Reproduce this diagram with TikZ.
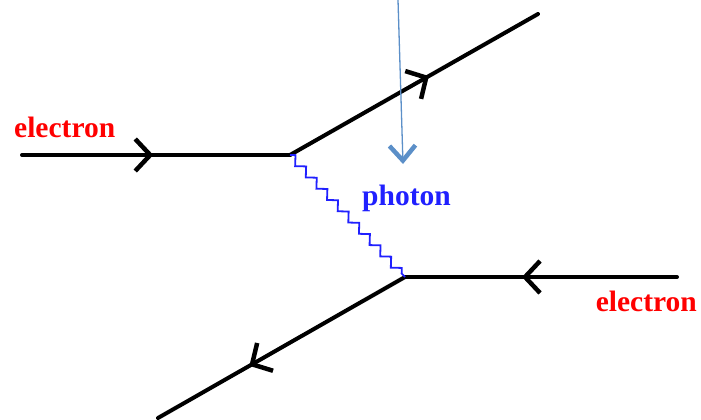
\documentclass[tikz,border=0pt]{standalone}
\usepackage{fontspec}
\setmainfont{Liberation Serif}
\usepackage{tikz}
\usetikzlibrary{arrows.meta,decorations.markings,decorations.pathmorphing}
\definecolor{LabelRed}{HTML}{FF0000}
\definecolor{PhotonBlue}{HTML}{2020FF}
\definecolor{PointerBlue}{HTML}{5B8FC8}
\begin{document}
\begin{tikzpicture}[x=1pt,y=-1pt,
        fermion/.style={line width=4pt,line cap=round,
          decoration={markings,mark=at position #1 with {\arrow{Straight Barb[length=15pt,width=32pt,line width=4.5pt]}}},
          postaction=decorate},
        photonline/.style={draw=PhotonBlue,line width=1.8pt,
          decorate,decoration={zigzag,segment length=15.5pt,amplitude=3.9pt}},
        lbl/.style={font=\fontsize{29.5}{33}\selectfont\bfseries,inner sep=0pt},
        pointer/.style={draw=PointerBlue,line width=1.3pt,
          -{Straight Barb[length=15pt,width=26pt,line width=4.5pt]}}
      ]
        \useasboundingbox (0,0) rectangle (701,420);
        % vertices and free ends
        \coordinate (v1) at (290,155);
        \coordinate (v2) at (405,277);
        \coordinate (inL) at (22,155);
        \coordinate (outU) at (538,14);
        \coordinate (inR) at (677,277);
        \coordinate (outD) at (158,418);
        \coordinate (ptop) at (398,0);
        \coordinate (ptip) at (403,164);
        % electron lines
        \draw[fermion=0.49] (inL) -- (v1);
        \draw[fermion=0.56] (v1) -- (outU);
        \draw[fermion=0.57] (inR) -- (v2);
        \draw[fermion=0.63] (v2) -- (outD);
        % exchanged photon
        \draw[photonline] (v1) -- (v2);
        \node[lbl,text=LabelRed,anchor=base west] (eleft) at (14,137) {electron};
        \node[lbl,text=LabelRed,anchor=base east] (eright) at (697,311) {electron};
        \node[lbl,text=PhotonBlue,anchor=base west] (ph) at (362,205) {photon};
        \draw[pointer] (ptop) -- (ptip);
      \end{tikzpicture}
\end{document}
